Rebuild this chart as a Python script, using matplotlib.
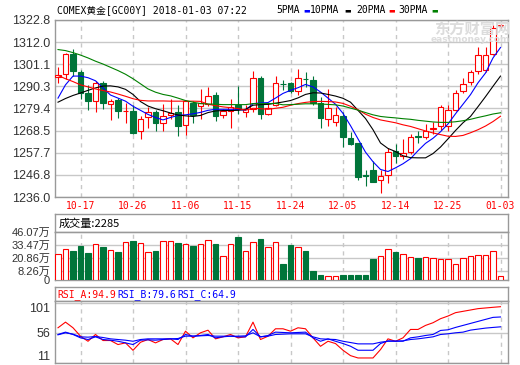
import matplotlib
matplotlib.use("Agg")
from matplotlib import pyplot as plt
from matplotlib.patches import Rectangle
import pandas as pd

# trading days shown (all weekdays 2017-10-12 .. 2018-01-03)
dates = pd.bdate_range("2017-10-12", "2018-01-03").strftime("%m-%d").tolist()
date_ticks = ["10-17", "10-26", "11-06", "11-15", "11-24", "12-05", "12-14", "12-25", "01-03"]

opens = [1295.0, 1296.2, 1305.9, 1297.4, 1287.1, 1283.1, 1291.7, 1281.8, 1283.8, 1278.0,
         1278.4, 1268.3, 1275.1, 1277.5, 1272.5, 1276.0, 1277.6, 1271.3, 1282.3, 1280.6,
         1281.8, 1285.9, 1276.0, 1278.4, 1281.3, 1277.6, 1279.3, 1294.2, 1276.6, 1281.0,
         1291.6, 1291.7, 1287.9, 1294.1, 1293.4, 1282.3, 1274.3, 1273.0, 1275.5, 1265.0,
         1262.5, 1246.6, 1249.2, 1244.4, 1246.9, 1258.5, 1256.0, 1258.0, 1265.7, 1265.2,
         1269.5, 1270.6, 1270.6, 1278.9, 1288.2, 1292.6, 1297.6, 1298.5, 1305.9, 1319.8]
highs = [1299.7, 1306.5, 1308.8, 1298.4, 1290.9, 1292.7, 1292.7, 1284.3, 1284.6, 1282.3,
         1281.0, 1275.6, 1280.1, 1278.9, 1281.6, 1284.3, 1281.3, 1283.4, 1282.9, 1288.9,
         1290.1, 1287.6, 1279.3, 1283.9, 1290.4, 1281.3, 1297.9, 1295.4, 1282.3, 1295.1,
         1293.4, 1292.6, 1298.9, 1297.2, 1295.1, 1285.1, 1288.9, 1280.1, 1277.6, 1268.0,
         1262.7, 1249.4, 1253.5, 1249.4, 1260.2, 1261.8, 1264.3, 1266.8, 1268.5, 1271.8,
         1272.6, 1281.0, 1281.0, 1288.4, 1294.2, 1298.4, 1309.7, 1309.7, 1320.3, 1320.8]
lows = [1292.1, 1294.0, 1295.1, 1283.9, 1278.6, 1277.6, 1279.0, 1273.6, 1274.8, 1272.1,
        1266.8, 1264.2, 1269.6, 1268.6, 1268.6, 1274.3, 1265.7, 1266.5, 1272.1, 1274.3,
        1280.6, 1273.5, 1274.6, 1269.6, 1276.6, 1275.1, 1277.6, 1274.3, 1276.3, 1280.6,
        1288.4, 1286.8, 1285.9, 1290.1, 1281.3, 1269.6, 1271.0, 1271.0, 1260.5, 1261.3,
        1244.4, 1241.4, 1243.2, 1238.2, 1242.7, 1252.7, 1254.7, 1257.3, 1262.7, 1264.3,
        1266.8, 1269.0, 1268.5, 1278.4, 1286.8, 1290.9, 1296.2, 1297.2, 1305.5, 1319.0]
closes = [1295.6, 1306.2, 1297.6, 1287.1, 1283.1, 1291.7, 1282.1, 1283.1, 1278.1, 1278.3,
          1267.6, 1274.3, 1277.5, 1272.3, 1275.5, 1277.1, 1270.6, 1282.9, 1276.3, 1282.3,
          1285.4, 1275.6, 1278.1, 1280.1, 1279.3, 1279.3, 1294.2, 1276.6, 1279.6, 1291.7,
          1291.2, 1287.9, 1294.2, 1293.7, 1282.3, 1274.6, 1279.6, 1276.0, 1265.2, 1262.2,
          1245.6, 1246.2, 1243.6, 1246.4, 1258.0, 1256.0, 1257.7, 1265.2, 1265.3, 1268.5,
          1269.8, 1280.1, 1278.8, 1287.2, 1291.2, 1297.2, 1305.4, 1305.4, 1319.1, 1320.2]

ma5 = [1284.5, 1291.0, 1295.3, 1295.3, 1294.5, 1293.0, 1289.5, 1286.0, 1284.5, 1283.0,
       1280.5, 1278.5, 1276.5, 1275.0, 1273.8, 1275.0, 1276.0, 1276.3, 1276.8, 1277.5,
       1278.5, 1279.0, 1279.0, 1279.0, 1279.0, 1278.5, 1281.8, 1282.1, 1282.3, 1284.5,
       1286.8, 1288.3, 1289.6, 1291.2, 1290.0, 1287.5, 1284.5, 1281.5, 1277.0, 1271.0,
       1264.5, 1258.0, 1253.3, 1249.5, 1248.5, 1250.3, 1252.3, 1254.8, 1258.7, 1262.3,
       1264.8, 1268.0, 1271.8, 1276.8, 1281.5, 1286.2, 1292.0, 1296.8, 1304.2, 1309.3]
ma10 = [1282.5, 1284.3, 1285.8, 1287.0, 1288.3, 1289.5, 1290.4, 1290.5, 1290.0, 1288.8,
        1286.3, 1282.8, 1280.6, 1279.3, 1278.3, 1277.2, 1276.2, 1275.8, 1275.5, 1276.0,
        1277.4, 1278.2, 1278.4, 1278.4, 1278.5, 1279.0, 1281.0, 1281.3, 1281.4, 1282.0,
        1282.6, 1283.3, 1284.6, 1286.3, 1287.1, 1287.0, 1286.3, 1285.5, 1284.4, 1282.5,
        1278.5, 1274.5, 1269.0, 1262.5, 1259.8, 1258.3, 1256.2, 1255.3, 1255.2, 1255.2,
        1257.3, 1260.5, 1264.5, 1268.6, 1272.4, 1275.5, 1280.3, 1285.2, 1290.3, 1295.3]
ma20 = [1295.6, 1294.0, 1292.6, 1291.0, 1290.0, 1289.0, 1288.2, 1287.5, 1286.5, 1285.4,
        1284.2, 1283.4, 1283.1, 1283.1, 1283.1, 1283.0, 1283.0, 1283.0, 1283.0, 1282.9,
        1281.5, 1280.8, 1280.2, 1279.8, 1279.4, 1278.6, 1279.5, 1279.3, 1279.0, 1279.5,
        1280.0, 1281.0, 1281.8, 1282.4, 1282.8, 1282.9, 1282.8, 1282.6, 1281.9, 1280.5,
        1278.8, 1276.6, 1275.0, 1273.8, 1273.1, 1272.4, 1271.4, 1270.6, 1269.5, 1268.4,
        1267.4, 1266.6, 1265.8, 1265.7, 1266.2, 1267.5, 1269.0, 1270.8, 1273.0, 1275.6]
ma30 = [1308.3, 1307.8, 1306.8, 1305.6, 1304.2, 1302.6, 1301.2, 1299.6, 1298.0, 1296.2,
        1294.0, 1291.5, 1289.0, 1287.4, 1286.3, 1285.6, 1284.5, 1283.3, 1282.5, 1281.8,
        1281.6, 1281.5, 1281.3, 1281.3, 1281.3, 1281.3, 1281.8, 1281.8, 1281.8, 1281.9,
        1281.2, 1281.3, 1281.5, 1281.7, 1281.7, 1281.6, 1281.4, 1281.2, 1280.6, 1279.6,
        1278.6, 1277.4, 1276.3, 1275.5, 1275.1, 1274.8, 1274.4, 1274.1, 1273.6, 1273.2,
        1272.8, 1272.6, 1272.6, 1272.9, 1273.4, 1274.1, 1275.0, 1275.8, 1276.7, 1277.3]

# volume, in 万
volume = [25.1, 29.6, 28.0, 32.9, 26.1, 34.8, 31.9, 28.7, 27.1, 36.4,
          37.7, 35.7, 26.7, 28.0, 37.4, 37.4, 35.7, 34.8, 32.9, 34.8,
          38.3, 34.8, 23.2, 34.8, 41.5, 27.7, 36.4, 39.6, 31.6, 36.4,
          15.5, 33.2, 31.6, 28.0, 8.7, 4.8, 4.2, 4.2, 4.8, 4.8,
          4.8, 4.8, 20.3, 22.9, 29.6, 27.1, 24.8, 21.9, 21.3, 21.9,
          21.3, 20.0, 20.0, 15.1, 21.0, 22.9, 24.2, 24.2, 27.7, 4.2]
vol_ticks = [0, 8.26, 20.86, 33.47, 46.07]
vol_tick_labels = ["0", "8.26万", "20.86万", "33.47万", "46.07万"]

rsi_a = [63.5, 71.9, 63.5, 50.9, 43.4, 53.5, 44.5, 44.5, 38.5, 41.0,
         29.9, 41.9, 46.0, 41.0, 46.0, 47.0, 38.5, 58.4, 48.5, 56.0,
         59.9, 47.0, 50.0, 53.5, 48.5, 50.0, 71.9, 46.0, 50.9, 62.0,
         62.0, 58.4, 63.5, 62.0, 48.5, 35.9, 43.4, 40.0, 30.0, 22.0,
         18.5, 18.5, 18.5, 31.0, 47.0, 43.4, 48.5, 61.0, 61.0, 67.0,
         71.0, 77.0, 81.0, 86.0, 88.0, 90.0, 92.0, 93.0, 94.0, 94.9]
rsi_b = [53.5, 57.0, 53.5, 48.5, 46.0, 50.0, 46.0, 45.0, 43.4, 41.0,
         38.5, 45.0, 45.5, 45.0, 46.0, 47.0, 46.0, 53.5, 51.0, 52.0,
         53.5, 48.5, 50.0, 51.0, 50.0, 50.0, 61.0, 50.0, 52.0, 57.0,
         56.5, 56.0, 56.5, 57.0, 48.5, 43.4, 47.0, 43.4, 40.0, 36.0,
         30.0, 30.0, 30.0, 40.0, 44.0, 43.5, 43.5, 48.5, 50.0, 52.0,
         53.5, 59.5, 60.5, 64.0, 67.0, 70.0, 73.0, 76.0, 79.0, 79.6]
rsi_c = [53.0, 56.0, 54.0, 50.0, 49.5, 50.5, 49.0, 47.0, 46.0, 45.0,
         43.4, 46.0, 47.0, 47.0, 47.0, 47.0, 47.5, 51.0, 51.0, 51.5,
         52.0, 51.0, 51.0, 51.0, 51.0, 51.5, 56.0, 50.0, 51.0, 53.5,
         54.0, 54.5, 54.5, 54.5, 50.0, 47.0, 46.5, 46.0, 43.4, 41.5,
         39.5, 39.5, 39.5, 42.0, 43.4, 43.6, 44.0, 46.0, 47.0, 48.5,
         50.0, 53.5, 54.5, 56.0, 57.0, 60.0, 61.5, 63.0, 64.0, 64.9]

price_ticks = [1236.0, 1246.85, 1257.7, 1268.55, 1279.4, 1290.25, 1301.1, 1311.95, 1322.8]
price_tick_labels = ["1236.0", "1246.8", "1257.7", "1268.5", "1279.4",
                     "1290.3", "1301.1", "1312.0", "1322.8"]

W, H = 520, 365
RED = "#ff0000"
GREEN = "#00753a"
GRID = "#c8c8c8"
BORDER = "#999999"
MONO = ["DejaVu Sans Mono", "Noto Sans CJK SC"]
SANS = ["Liberation Sans", "Noto Sans CJK SC"]
LW = 0.8


def box(l, t, r, b):
    return [l / W, 1 - b / H, (r - l) / W, (b - t) / H]


def style(ax):
    for s in ax.spines.values():
        s.set_color(BORDER)
        s.set_linewidth(1)
    ax.tick_params(length=0)
    ax.set_xlim(-0.4, len(dates))


fig = plt.figure(figsize=(W / 100, H / 100), dpi=100)
xs = list(range(len(dates)))
tick_idx = [dates.index(d) for d in date_ticks]
bw = 0.68

# ---- price panel
ax = fig.add_axes(box(55, 20, 508, 197))
style(ax)
ax.set_ylim(price_ticks[0], price_ticks[-1])
ax.set_yticks(price_ticks, price_tick_labels, fontsize=9, color="#333333", family=SANS)
ax.set_xticks(tick_idx, date_ticks, fontsize=7, color=RED, family=MONO)
ax.tick_params(axis="x", pad=3)
ax.yaxis.grid(True, color=GRID, lw=1)
ax.xaxis.grid(True, color=GRID, lw=1, ls=(0, (3, 3)))
ax.set_axisbelow(True)

for i in xs:
    o, h, l, c = opens[i], highs[i], lows[i], closes[i]
    up = c >= o
    col = RED if up else GREEN
    ax.vlines(i, l, h, color=col, lw=LW, zorder=2)
    ax.add_patch(Rectangle((i - bw / 2, min(o, c)), bw, max(abs(c - o), 0.05),
                           facecolor="white" if up else GREEN, edgecolor=col,
                           lw=LW, zorder=3))

ax.plot(xs, ma5, color="#0000ff", lw=LW, zorder=4)
ax.plot(xs, ma10, color="black", lw=LW, zorder=4)
ax.plot(xs, ma20, color=RED, lw=LW, zorder=4)
ax.plot(xs, ma30, color="#008000", lw=LW, zorder=4)

# header texts
fig.text(57 / W, 1 - 10 / H, "COMEX黄金[GC00Y] 2018-01-03 07:22", fontsize=7,
         family=MONO, va="center", ha="left")
legend_items = [("5PMA", "#0000ff", 276, 303), ("10PMA", "black", 310, 344),
                ("20PMA", RED, 356, 388), ("30PMA", "#008000", 398, 431)]
for name, col, tx, bx in legend_items:
    fig.text(tx / W, 1 - 10 / H, name, fontsize=7, family=MONO, va="center")
    fig.text(bx / W, 1 - 10 / H, "▬", fontsize=5, color=col, va="center",
             family="DejaVu Sans")

# watermark
fig.text(472 / W, 1 - 29 / H, "东方财富网", fontsize=11, fontweight="bold",
         color="#dcdcdc", ha="center", va="center", family="Noto Sans CJK SC")
fig.text(470 / W, 1 - 40 / H, "eastmoney.com", fontsize=6.5, fontweight="bold",
         color="#dcdcdc", ha="center", va="center", family="DejaVu Sans")

# ---- volume panel
axh = fig.add_axes(box(55, 214, 508, 232))
style(axh)
axh.set_xticks([])
axh.set_yticks([])
axh.text(0.008, 0.45, "成交量:2285", transform=axh.transAxes, fontsize=8,
         family=["Noto Sans CJK SC"], va="center")

axv = fig.add_axes(box(55, 232, 508, 280))
style(axv)
axv.set_ylim(0, vol_ticks[-1])
axv.set_yticks(vol_ticks, vol_tick_labels, fontsize=8, color="#333333", family=SANS)
axv.set_xticks(tick_idx, [])
axv.yaxis.grid(True, color=GRID, lw=1)
axv.xaxis.grid(True, color=GRID, lw=1, ls=(0, (3, 3)))
axv.set_axisbelow(True)
for i in xs:
    up = closes[i] >= opens[i]
    axv.bar(i, volume[i], width=bw, color="white" if up else GREEN,
            edgecolor=RED if up else GREEN, lw=LW, zorder=3)

# ---- RSI panel
axr_h = fig.add_axes(box(55, 287, 508, 301))
style(axr_h)
axr_h.set_xticks([])
axr_h.set_yticks([])
rsi_labels = [("RSI_A:94.9", RED, 0.005), ("RSI_B:79.6", "#0000ff", 0.138),
              ("RSI_C:64.9", "#0000ff", 0.271)]
for txt, col, px in rsi_labels:
    axr_h.text(px, 0.45, txt, transform=axr_h.transAxes, fontsize=7, family=MONO,
               color=col, va="center")

axr = fig.add_axes(box(55, 301, 508, 363))
style(axr)
axr.set_ylim(11, 103.4)
axr.set_yticks([11, 56, 101], ["11", "56", "101"], fontsize=9, color="#333333",
               family=SANS)
ticks = axr.yaxis.get_major_ticks()
ticks[0].label1.set_va("bottom")
ticks[2].label1.set_va("top")
axr.set_xticks(tick_idx, [])
axr.yaxis.grid(True, color=GRID, lw=1)
axr.xaxis.grid(True, color=GRID, lw=1, ls=(0, (3, 3)))
axr.set_axisbelow(True)
axr.plot(xs, rsi_a, color=RED, lw=LW)
axr.plot(xs, rsi_b, color="#0000ff", lw=LW)
axr.plot(xs, rsi_c, color="#0000ff", lw=LW)

fig.savefig("out.png", dpi=100)
